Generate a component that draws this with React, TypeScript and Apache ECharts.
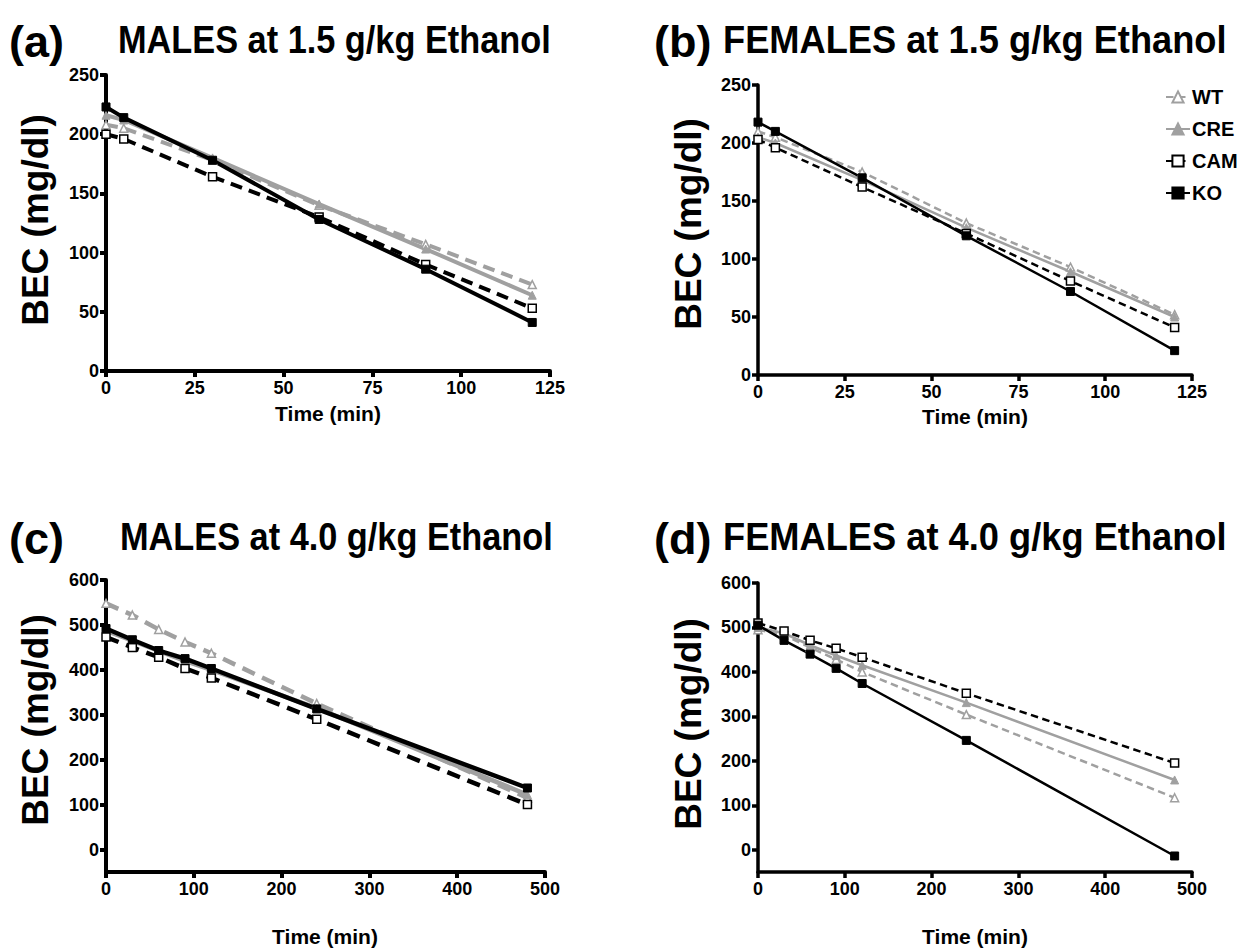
import React, { useEffect, useRef } from "react";
import * as echarts from "echarts";

const timesShort = [0, 5, 30, 60, 90, 120];
const timesLong = [0, 30, 60, 90, 120, 240, 480];

const aWT = [208, 205, 178, 140, 107, 73];
const aCRE = [216, 212, 180, 141, 103, 64];
const aCAM = [200, 196, 164, 130, 90, 53];
const aKO = [223, 214, 178, 128, 86, 41];

const bWT = [210, 205, 175, 131, 93, 52];
const bCRE = [205, 200, 168, 127, 89, 50];
const bCAM = [203, 196, 162, 122, 81, 41];
const bKO = [218, 210, 170, 120, 72, 21];

const cWT = [548, 522, 490, 462, 437, 325, 115];
const cCRE = [487, 465, 442, 420, 400, 315, 122];
const cCAM = [473, 450, 428, 403, 382, 290, 100];
const cKO = [492, 467, 443, 425, 403, 313, 137];

const dWT = [495, 483, 455, 428, 400, 304, 117];
const dCRE = [500, 487, 460, 437, 415, 331, 157];
const dCAM = [510, 492, 471, 453, 433, 352, 195];
const dKO = [505, 471, 440, 408, 374, 246, -14];

const legendNames = ["WT", "CRE", "CAM", "KO"];
const panelTitles = [
  ["(a)", "MALES at 1.5 g/kg Ethanol"],
  ["(b)", "FEMALES at 1.5 g/kg Ethanol"],
  ["(c)", "MALES at 4.0 g/kg Ethanol"],
  ["(d)", "FEMALES at 4.0 g/kg Ethanol"],
];
const yTitle = "BEC (mg/dl)";
const xTitle = "Time (min)";
const yTicksSmall = [0, 50, 100, 150, 200, 250];
const yTicksLarge = [0, 100, 200, 300, 400, 500, 600];

const GRAY = "#a0a0a0";
const FONT = "Arial, 'Liberation Sans', sans-serif";

function panelSeries(idx: number, times: number[], wt: number[], cre: number[], cam: number[], ko: number[], lw: number, sym: number) {
  const pts = (v: number[]) => times.map((t, i) => [t, v[i]]);
  const common = { type: "line", xAxisIndex: idx, yAxisIndex: idx, symbolSize: sym, showSymbol: true, z: 2 };
  return [
    { ...common, name: "WT", data: pts(wt), symbol: "triangle",
      lineStyle: { color: GRAY, width: lw, type: [lw * 3, lw * 1.8] },
      itemStyle: { color: "#fff", borderColor: GRAY, borderWidth: 1.5 } },
    { ...common, name: "CRE", data: pts(cre), symbol: "triangle",
      lineStyle: { color: GRAY, width: lw, type: "solid" },
      itemStyle: { color: GRAY, borderColor: GRAY, borderWidth: 1 } },
    { ...common, name: "CAM", data: pts(cam), symbol: "rect",
      lineStyle: { color: "#000", width: lw, type: [lw * 3, lw * 1.8] },
      itemStyle: { color: "#fff", borderColor: "#000", borderWidth: 1.5 } },
    { ...common, name: "KO", data: pts(ko), symbol: "rect",
      lineStyle: { color: "#000", width: lw, type: "solid" },
      itemStyle: { color: "#000", borderColor: "#000", borderWidth: 1 } },
  ];
}

const grids = [
  { left: 106, top: 75, width: 444, height: 296 },
  { left: 758, top: 85, width: 434, height: 290 },
  { left: 106, top: 580, width: 439, height: 292 },
  { left: 758, top: 583, width: 434, height: 289 },
];

function axisBase(aw: number) {
  return {
    axisLine: { show: true, onZero: false, lineStyle: { color: "#000", width: aw } },
    axisTick: { show: true, inside: false, length: 6, lineStyle: { color: "#000", width: aw } },
    splitLine: { show: false },
  };
}

export default function App() {
  const ref = useRef<HTMLDivElement>(null);
  useEffect(() => {
    if (!ref.current) return;
    const chart = echarts.init(ref.current, null, { renderer: "svg" });
    const axisW = [4, 3.5, 4, 3.5];
    const xAxes = grids.map((g, i) => {
      const small = i < 2;
      return {
        type: "value", gridIndex: i, min: 0, max: small ? 125 : 500, interval: small ? 25 : 100,
        ...axisBase(axisW[i]),
        axisLabel: { color: "#000", fontFamily: FONT, fontWeight: "bold", fontSize: 18, margin: 8 },
      };
    });
    const yAxes = grids.map((g, i) => {
      const small = i < 2;
      const ticks = small ? yTicksSmall : yTicksLarge;
      const base = axisBase(axisW[i]);
      return {
        type: "value", gridIndex: i, min: small ? 0 : -50, max: small ? 250 : 600,
        ...base,
        axisTick: { ...base.axisTick, customValues: ticks },
        axisLabel: { color: "#000", fontFamily: FONT, fontWeight: "bold", fontSize: 18, margin: 7, customValues: ticks },
      };
    });
    const series = [
      ...panelSeries(1, timesShort, bWT, bCRE, bCAM, bKO, 2.5, 8),
      ...panelSeries(0, timesShort, aWT, aCRE, aCAM, aKO, 4, 8),
      ...panelSeries(2, timesLong, cWT, cCRE, cCAM, cKO, 4.5, 8),
      ...panelSeries(3, timesLong, dWT, dCRE, dCAM, dKO, 2.5, 8),
    ];
    const titlePos = [
      { lx: 9, tx: 118, y: 40, s: 0.88 },
      { lx: 654, tx: 723, y: 40, s: 0.93 },
      { lx: 9, tx: 120, y: 537, s: 0.88 },
      { lx: 654, tx: 723, y: 537, s: 0.93 },
    ];
    const graphics: any[] = [];
    panelTitles.forEach((t, i) => {
      const p = titlePos[i];
      graphics.push({ type: "text", x: p.lx, y: p.y + 1,
        style: { text: t[0], font: `bold 45px ${FONT}`, fill: "#000", textAlign: "left", textVerticalAlign: "middle" } });
      graphics.push({ type: "text", x: p.tx, y: p.y, scaleX: p.s,
        style: { text: t[1], font: `bold 39px ${FONT}`, fill: "#000", textAlign: "left", textVerticalAlign: "middle" } });
    });
    const yTitlePos = [
      { x: 35, y: 220 }, { x: 688, y: 224 }, { x: 35, y: 720 }, { x: 688, y: 724 },
    ];
    yTitlePos.forEach((p) => {
      graphics.push({ type: "text", x: p.x, y: p.y, rotation: Math.PI / 2,
        style: { text: yTitle, font: `bold 37px ${FONT}`, fill: "#000", textAlign: "center", textVerticalAlign: "middle" } });
    });
    const xTitlePos = [
      { x: 328, y: 413 }, { x: 975, y: 416 }, { x: 325, y: 936 }, { x: 975, y: 936 },
    ];
    xTitlePos.forEach((p) => {
      graphics.push({ type: "text", x: p.x, y: p.y,
        style: { text: xTitle, font: `bold 21px ${FONT}`, fill: "#000", textAlign: "center", textVerticalAlign: "middle" } });
    });

    chart.setOption({
      animation: false,
      backgroundColor: "#fff",
      grid: grids.map((g) => ({ ...g, containLabel: false })),
      xAxis: xAxes,
      yAxis: yAxes,
      legend: {
        data: legendNames, orient: "vertical", left: 1160, top: 82, itemGap: 12,
        itemWidth: 24, itemHeight: 14, selectedMode: false,
        textStyle: { fontFamily: FONT, fontWeight: "bold", fontSize: 20, color: "#000", padding: [0, 0, 0, -3] },
      },
      series,
      graphic: graphics,
    });
    return () => chart.dispose();
  }, []);
  return (
    <div ref={ref} style={{ position: "absolute", left: 0, top: 0, width: 1251, height: 948, background: "#fff" }} />
  );
}
